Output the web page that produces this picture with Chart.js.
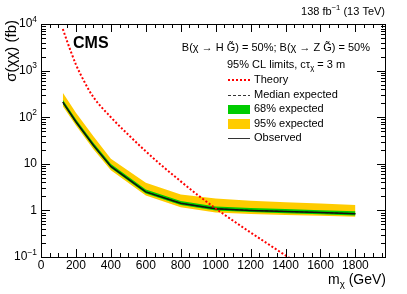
<!DOCTYPE html>
<html>
<head>
<meta charset="utf-8">
<script src="https://cdn.jsdelivr.net/npm/chart.js@4.4.1/dist/chart.umd.min.js"></script>
<style>
  html, body { margin: 0; padding: 0; background: #fff; }
  canvas { display: block; }
</style>
</head>
<body>
<canvas id="limits" width="407" height="294"></canvas>
<script>
// mass points of the limit curves (GeV)
const masses = [125, 200, 300, 400, 600, 800, 1000, 1200, 1400, 1600, 1800];
const observed = [210, 80, 25, 8.8, 2.5, 1.42, 1.08, 1.0, 0.95, 0.9, 0.85];
const expected = [208, 79, 25, 8.8, 2.5, 1.41, 1.08, 1.0, 0.95, 0.9, 0.85];
const band68Up = [237, 90, 28.2, 9.9, 2.82, 1.59, 1.22, 1.13, 1.07, 1.01, 0.96];
const band68Down = [192, 73, 23, 8.1, 2.3, 1.3, 0.99, 0.92, 0.87, 0.83, 0.78];
const band95Up = [335, 125, 39, 12.8, 3.9, 2.2, 1.8, 1.62, 1.5, 1.4, 1.3];
const band95Down = [172, 66, 20.5, 7.3, 2.08, 1.17, 0.9, 0.84, 0.8, 0.77, 0.73];

// theory cross section
const theoryMass = [125, 150, 200, 250, 300, 400, 500, 600, 700, 800, 900, 1000, 1100, 1200, 1300, 1400, 1450];
const theory = [7800, 4200, 1350, 560, 270, 100, 42, 18.5, 8.6, 4.2, 2.1, 1.1, 0.6, 0.335, 0.19, 0.108, 0.082];

const yTicks = [0.1, 1, 10, 100, 1000, 10000];
const yTickLabels = [["10", "\u22121"], ["1", ""], ["10", ""], ["10", "2"], ["10", "3"], ["10", "4"]];
const xTicks = [0, 200, 400, 600, 800, 1000, 1200, 1400, 1600, 1800];

const FONT = "'Liberation Sans', Arial, sans-serif";
const pts = (xs, ys) => xs.map((x, i) => ({ x: x, y: ys[i] }));

function partsWidth(ctx, parts, size) {
  let w = 0;
  for (const [t, mode] of parts) {
    const s = mode === "n" || mode === "b" ? size : size * 0.7;
    ctx.font = (mode === "b" ? "bold " : "") + s + "px " + FONT;
    w += ctx.measureText(t).width;
  }
  return w;
}

function drawRich(ctx, parts, x, y, size, align) {
  const w = partsWidth(ctx, parts, size);
  let cx = align === "right" ? x - w : align === "center" ? x - w / 2 : x;
  ctx.textAlign = "left";
  ctx.textBaseline = "middle";
  for (const [t, mode] of parts) {
    const s = mode === "n" || mode === "b" ? size : size * 0.7;
    ctx.font = (mode === "b" ? "bold " : "") + s + "px " + FONT;
    let dy = 0;
    if (mode === "sup") dy = -size * 0.38;
    if (mode === "sub") dy = size * 0.3;
    ctx.fillText(t, cx, y + dy);
    cx += ctx.measureText(t).width;
  }
}

const decorations = {
  id: "decorations",
  afterDraw(chart) {
    const ctx = chart.ctx;
    const a = chart.chartArea;
    const xs = chart.scales.x;
    const ys = chart.scales.y;
    ctx.save();
    ctx.fillStyle = "#000";
    ctx.strokeStyle = "#000";

    // frame
    ctx.lineWidth = 1;
    ctx.strokeRect(a.left + 0.5, a.top + 0.5, a.right - a.left - 1, a.bottom - a.top);

    // x ticks, inside, bottom and top
    ctx.beginPath();
    for (let v = 0; v <= xs.max; v += 50) {
      const px = Math.round(xs.getPixelForValue(v)) + 0.5;
      const len = v % 200 === 0 ? 8 : 4;
      ctx.moveTo(px, a.bottom);
      ctx.lineTo(px, a.bottom - len);
      ctx.moveTo(px, a.top);
      ctx.lineTo(px, a.top + len);
    }
    // y ticks, inside, left and right
    for (let d = -1; d <= 4; d++) {
      for (let k = 1; k <= 9; k++) {
        if (d === 4 && k > 1) break;
        const py = Math.round(ys.getPixelForValue(k * Math.pow(10, d))) + 0.5;
        const len = k === 1 ? 9 : 5;
        ctx.moveTo(a.left, py);
        ctx.lineTo(a.left + len, py);
        ctx.moveTo(a.right, py);
        ctx.lineTo(a.right - len, py);
      }
    }
    ctx.stroke();

    // x tick labels
    ctx.font = "12px " + FONT;
    ctx.textAlign = "center";
    ctx.textBaseline = "middle";
    xTicks.forEach(v => ctx.fillText(String(v), xs.getPixelForValue(v), 266));

    // y tick labels
    yTicks.forEach((v, i) => {
      const [base, exp] = yTickLabels[i];
      const parts = exp ? [[base, "n"], [exp, "sup"]] : [[base, "n"]];
      drawRich(ctx, parts, 37, ys.getPixelForValue(v), 12, "right");
    });

    // axis titles
    drawRich(ctx, [["m", "n"], ["\u03C7", "sub"], [" (GeV)", "n"]], 386, 280, 14, "right");
    ctx.save();
    ctx.translate(12, 20);
    ctx.rotate(-Math.PI / 2);
    drawRich(ctx, [["\u03C3(\u03C7\u03C7) (fb)", "n"]], 0, 0, 15, "right");
    ctx.restore();

    // header texts
    drawRich(ctx, [["138 fb", "n"], ["\u22121", "sup"], [" (13 TeV)", "n"]], 385, 12, 11, "right");
    drawRich(ctx, [["CMS", "b"]], 73, 44, 16, "left");
    drawRich(ctx, [["B(\u03C7 \u2192 H G\u0303) = 50%; B(\u03C7 \u2192 Z G\u0303) = 50%", "n"]], 370, 48, 11, "right");
    drawRich(ctx, [["95% CL limits, c\u03C4", "n"], ["\u03C7", "sub"], [" = 3 m", "n"]], 227, 65, 11, "left");

    // legend
    const lx0 = 228, lx1 = 250, tx = 254;
    ctx.lineWidth = 2;
    ctx.strokeStyle = "#ff0000";
    ctx.setLineDash([2, 2]);
    ctx.beginPath(); ctx.moveTo(lx0, 80); ctx.lineTo(lx1, 80); ctx.stroke();
    ctx.lineWidth = 1;
    ctx.strokeStyle = "#333";
    ctx.setLineDash([3, 2]);
    ctx.beginPath(); ctx.moveTo(lx0, 95.5); ctx.lineTo(lx1, 95.5); ctx.stroke();
    ctx.setLineDash([]);
    ctx.fillStyle = "#00cc00";
    ctx.fillRect(lx0, 105, lx1 - lx0, 9);
    ctx.fillStyle = "#ffcc00";
    ctx.fillRect(lx0, 119, lx1 - lx0, 10);
    ctx.strokeStyle = "#333";
    ctx.lineWidth = 1;
    ctx.beginPath(); ctx.moveTo(lx0, 138.5); ctx.lineTo(lx1, 138.5); ctx.stroke();
    ctx.fillStyle = "#000";
    drawRich(ctx, [["Theory", "n"]], tx, 80, 11, "left");
    drawRich(ctx, [["Median expected", "n"]], tx, 95, 11, "left");
    drawRich(ctx, [["68% expected", "n"]], tx, 109, 11, "left");
    drawRich(ctx, [["95% expected", "n"]], tx, 124, 11, "left");
    drawRich(ctx, [["Observed", "n"]], tx, 138, 11, "left");
    ctx.restore();
  }
};

const ctx = document.getElementById("limits").getContext("2d");

const limitChart = new Chart(ctx, {
  type: "line",
  data: {
    datasets: [
      {
        label: "95% up",
        data: pts(masses, band95Up),
        borderWidth: 0,
        backgroundColor: "#ffcc00",
        fill: 1,
        order: 5,
      },
      {
        label: "95% down",
        data: pts(masses, band95Down),
        borderWidth: 0,
        fill: false,
        order: 5,
      },
      {
        label: "68% up",
        data: pts(masses, band68Up),
        borderWidth: 0,
        backgroundColor: "#00cc00",
        fill: 3,
        order: 4,
      },
      {
        label: "68% down",
        data: pts(masses, band68Down),
        borderWidth: 0,
        fill: false,
        order: 4,
      },
      {
        label: "Median expected",
        data: pts(masses, expected),
        borderColor: "#222",
        borderWidth: 1,
        borderDash: [3, 2],
        fill: false,
        order: 3,
      },
      {
        label: "Observed",
        data: pts(masses, observed),
        borderColor: "#111",
        borderWidth: 1.5,
        fill: false,
        order: 2,
      },
      {
        label: "Theory",
        data: pts(theoryMass, theory),
        borderColor: "#ff0000",
        borderWidth: 2,
        borderDash: [2, 2],
        cubicInterpolationMode: "monotone",
        fill: false,
        order: 1,
      },
    ],
  },
  options: {
    responsive: false,
    animation: false,
    devicePixelRatio: 1,
    layout: {
      padding: { left: 41, top: 24, right: 21, bottom: 37 },
    },
    elements: {
      point: { radius: 0 },
      line: { tension: 0 },
    },
    plugins: {
      legend: { display: false },
      tooltip: { enabled: false },
    },
    scales: {
      x: {
        type: "linear",
        min: 0,
        max: 1975,
        display: true,
        grid: { display: false },
        border: { display: false },
        ticks: { display: false },
        afterFit: (scale) => { scale.height = 0; },
      },
      y: {
        type: "logarithmic",
        min: 0.1,
        max: 10000,
        display: true,
        grid: { display: false },
        border: { display: false },
        ticks: { display: false },
        afterFit: (scale) => { scale.width = 0; },
      },
    },
  },
  plugins: [decorations],
});
</script>
</body>
</html>
